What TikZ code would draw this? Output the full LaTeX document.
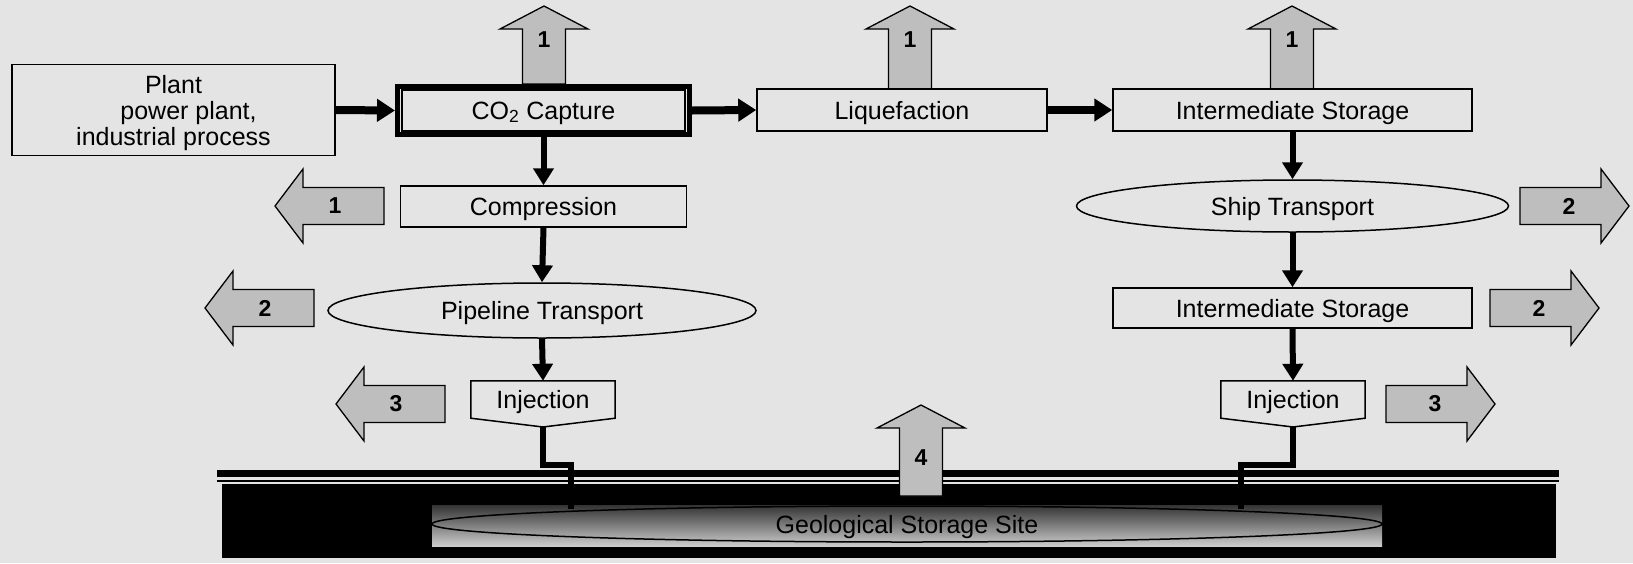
\documentclass[tikz,border=0pt]{standalone}
\usepackage{fontspec}
\setmainfont{Liberation Sans}
\usetikzlibrary{arrows.meta,shapes.geometric,calc}
\definecolor{bg}{HTML}{E4E4E4}
\definecolor{arrfill}{HTML}{BEBEBE}
\tikzset{
  box/.style={draw=black, line width=1.5pt, inner sep=0pt, text depth=0pt, font=\fontsize{25}{26}\selectfont},
  oval/.style={ellipse, draw=black, line width=1.5pt, inner sep=0pt, text depth=0pt, font=\fontsize{25}{26}\selectfont},
  conn/.style={line width=6pt, -{Triangle[width=20pt,length=17pt]}},
  hconn/.style={line width=8pt, -{Triangle[width=22pt,length=18pt]}},
  feed/.style={line width=6pt, line join=miter},
  barrow/.style={draw=black, line width=1.3pt, fill=arrfill, line join=miter},
  numlbl/.style={font=\fontsize{23}{27}\selectfont\bfseries, inner sep=0pt},
}
% right block arrow: #1 name, #2 left x, #3 centre y, #4 label
\newcommand{\blkR}[4]{%
  \draw[barrow] (#2,#3-18.5) -- (#2+81,#3-18.5) -- (#2+81,#3-37) -- (#2+109,#3)
    -- (#2+81,#3+37) -- (#2+81,#3+18.5) -- (#2,#3+18.5) -- cycle;
  \node[numlbl] (#1) at (#2+49,#3) {#4};}
% left block arrow: #1 name, #2 tip x, #3 centre y, #4 label
\newcommand{\blkL}[4]{%
  \draw[barrow] (#2+109,#3-18.5) -- (#2+28,#3-18.5) -- (#2+28,#3-37) -- (#2,#3)
    -- (#2+28,#3+37) -- (#2+28,#3+18.5) -- (#2+109,#3+18.5) -- cycle;
  \node[numlbl] (#1) at (#2+60,#3) {#4};}
% up block arrow: #1 name, #2 centre x, #3 tip y, #4 bottom y, #5 label y, #6 label
\newcommand{\blkU}[6]{%
  \draw[barrow] (#2-21.5,#4) -- (#2-21.5,#3+23) -- (#2-44,#3+23) -- (#2,#3)
    -- (#2+44,#3+23) -- (#2+21.5,#3+23) -- (#2+21.5,#4) -- cycle;
  \node[numlbl] (#1) at (#2,#5) {#6};}
\begin{document}
\begin{tikzpicture}[x=1pt,y=-1pt]
\fill[bg] (0,0) rectangle (1633,563);
\useasboundingbox (0,0) rectangle (1633,563);

% ground
\fill[black] (217,470) rectangle (1559,477);
\fill[black] (217,479.5) rectangle (1559,482);
\fill[black] (222,484) rectangle (1556,558);
\shade[top color=black!80, middle color=black!42, bottom color=black!20] (432,505) rectangle (1382,546);
\node[ellipse, draw=black, line width=1.5pt, inner sep=0pt, text depth=0pt, minimum width=950pt, minimum height=36pt,
  font=\fontsize{25}{26}\selectfont] (geo) at (907,524) {Geological Storage Site};

% up arrows 1
\blkU{u1}{544}{6}{84}{40}{1}
\blkU{u2}{910}{6}{89}{40}{1}
\blkU{u3}{1292}{6}{89}{40}{1}

% top row
\node[box, minimum width=323pt, minimum height=91pt, align=center] (plant) at (173.5,110)
  {Plant\\\hspace*{30pt}power plant,\\industrial process};
\node[box, line width=5pt, minimum width=292pt, minimum height=48pt] (cap) at (543.5,110.5)
  {CO\textsubscript{2} Capture};
\draw[line width=1.5pt] ([shift={(7pt,-6pt)}]cap.north west) rectangle ([shift={(-7pt,6pt)}]cap.south east);
\node[box, minimum width=290pt, minimum height=42pt] (liq) at (902,110) {Liquefaction};
\node[box, minimum width=359pt, minimum height=42pt] (ist) at (1292.5,110) {Intermediate Storage};

% left column
\node[box, minimum width=286pt, minimum height=41pt] (comp) at (543.5,206.5) {Compression};
\node[oval, minimum width=428pt, minimum height=55pt] (pipe) at (542,310.5) {Pipeline Transport};
\node[font=\fontsize{25}{26}\selectfont, inner sep=0pt, text depth=0pt, minimum width=144pt, minimum height=37pt] (injl) at (543,399.5) {Injection};
\coordinate (injltip) at (543,427);
\draw[line width=1.5pt, line join=miter] (injl.north west) -- (injl.north east) -- (injl.south east) -- (injltip) -- (injl.south west) -- cycle;

% right column
\node[oval, minimum width=432pt, minimum height=52pt] (ship) at (1292.5,206) {Ship Transport};
\node[box, minimum width=359pt, minimum height=40pt] (isl) at (1292.5,308) {Intermediate Storage};
\node[font=\fontsize{25}{26}\selectfont, inner sep=0pt, text depth=0pt, minimum width=144pt, minimum height=37pt] (injr) at (1293,399.5) {Injection};
\coordinate (injrtip) at (1293,427);
\draw[line width=1.5pt, line join=miter] (injr.north west) -- (injr.north east) -- (injr.south east) -- (injrtip) -- (injr.south west) -- cycle;

% side arrows
\blkL{l1}{275}{206}{1}
\blkL{l2}{205}{308}{2}
\blkL{l3}{336}{404}{3}
\blkR{r1}{1520}{206}{2}
\blkR{r2}{1490}{308}{2}
\blkR{r3}{1386}{404}{3}

% connectors
\draw[hconn] (plant.east) -- (cap.west);
\draw[hconn] (cap.east) -- (liq.west);
\draw[hconn] (liq.east) -- (ist.west);
\draw[conn] (cap.south) -- (comp.north);
\draw[conn] (comp.south) -- (pipe.north);
\draw[conn] (pipe.south) -- (injl.north);
\draw[conn] (ist.south) -- (ship.north);
\draw[conn] (ship.south) -- (isl.north);
\draw[conn] (isl.south) -- (injr.north);

\coordinate (geol) at (571,509);
\coordinate (geor) at (1241,509);
\draw[feed] (injltip) -- ++(0,38) -| (geol);
\draw[feed] (injrtip) -- ++(0,38) -| (geor);

% arrow 4
\blkU{u4}{921}{405}{496}{458}{4}
\end{tikzpicture}
\end{document}
